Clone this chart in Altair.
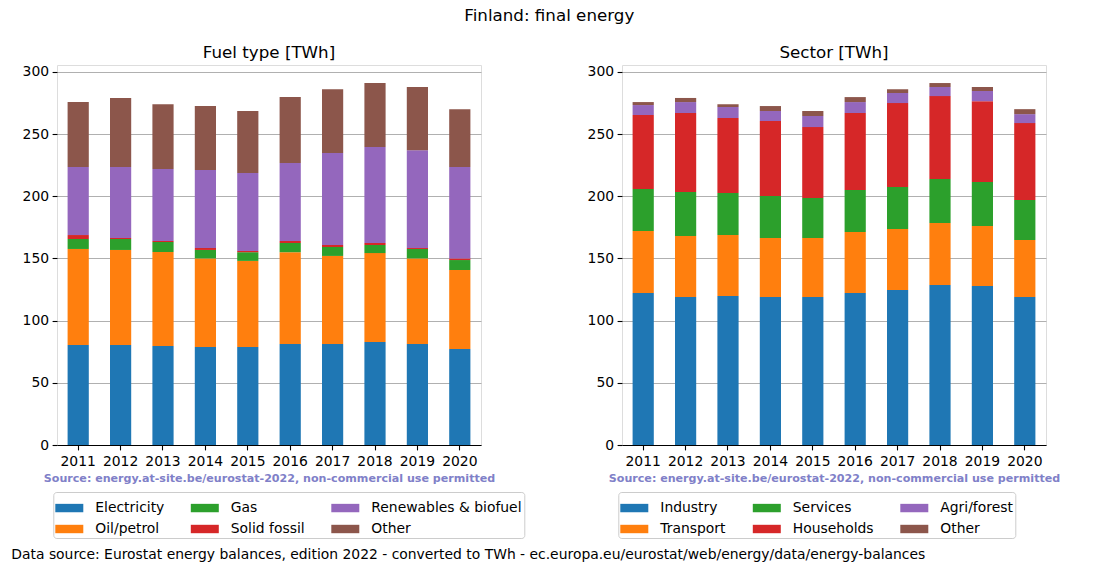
import altair as alt
import pandas as pd

years = ["2011", "2012", "2013", "2014", "2015", "2016", "2017", "2018", "2019", "2020"]

# Fuel type [TWh]
fuel_names = ["Electricity", "Oil/petrol", "Gas", "Solid fossil", "Renewables & biofuel", "Other"]
electricity = [80.4, 80.4, 79.6, 78.8, 78.8, 81.2, 81.2, 82.8, 81.2, 77.2]
oil_petrol = [77.2, 76.4, 75.5, 71.2, 69.2, 73.8, 70.8, 71.5, 68.8, 63.5]
gas = [8.0, 8.8, 8.1, 6.8, 7.0, 7.4, 7.2, 6.5, 7.6, 8.0]
solid_fossil = [3.2, 0.8, 0.8, 1.6, 1.0, 1.6, 1.6, 1.6, 0.8, 1.3]
renewables = [54.7, 57.1, 57.9, 62.6, 62.6, 62.7, 73.9, 77.1, 78.6, 73.5]
fuel_other = [52.2, 55.5, 52.1, 51.5, 49.9, 53.0, 51.3, 51.5, 50.8, 46.5]

# Sector [TWh]
sector_names = ["Industry", "Transport", "Services", "Households", "Agri/forest", "Other"]
industry = [122.2, 119.0, 119.8, 119.0, 119.0, 122.2, 124.6, 128.6, 127.8, 119.0]
transport = [49.8, 49.0, 49.0, 47.4, 47.4, 49.0, 49.0, 49.9, 48.2, 45.8]
services = [33.8, 35.4, 33.8, 33.8, 32.2, 33.8, 33.8, 35.3, 35.4, 32.2]
households = [59.5, 63.5, 60.3, 60.3, 57.0, 61.9, 67.5, 66.7, 65.0, 61.8]
agri_forest = [8.0, 8.8, 8.8, 8.0, 8.9, 8.8, 8.1, 7.3, 8.2, 7.2]
sector_other = [2.4, 3.3, 2.3, 4.0, 4.0, 4.0, 3.0, 3.2, 3.2, 4.0]

palette = ["#1f77b4", "#ff7f0e", "#2ca02c", "#d62728", "#9467bd", "#8c564b"]
y_ticks = [0, 50, 100, 150, 200, 250, 300]

SOURCE = "Source: energy.at-site.be/eurostat-2022, non-commercial use permitted"
DATA_SRC = ("Data source: Eurostat energy balances, edition 2022 - converted to TWh - "
            "ec.europa.eu/eurostat/web/energy/data/energy-balances")
FONT = "DejaVu Sans"


def long_table(names, series):
    rows = []
    for i, (n, vals) in enumerate(zip(names, series)):
        for y, v in zip(years, vals):
            rows.append({"year": y, "cat": n, "value": v, "idx": i})
    return pd.DataFrame(rows)


def panel(names, series, title):
    df = long_table(names, series)
    return alt.Chart(df).mark_bar().encode(
        x=alt.X("year:N", sort=years,
                scale=alt.Scale(paddingInner=0.5, paddingOuter=0.25),
                axis=alt.Axis(title=SOURCE, labelAngle=0, grid=False, domain=True,
                              domainColor="black", domainWidth=1.1, zindex=1,
                              ticks=True, tickSize=4.9, tickColor="black", tickWidth=1.1,
                              labelPadding=4.5, labelFontSize=13.9, labelColor="black",
                              labelFont=FONT, titleFont=FONT, titleFontWeight="bold",
                              titleFontSize=11.1, titleColor="#8080c8", titlePadding=4)),
        y=alt.Y("value:Q", stack="zero",
                scale=alt.Scale(domain=[0, 305.5], nice=False, zero=True),
                axis=alt.Axis(title=None, values=y_ticks, grid=True, gridColor="#b0b0b0",
                              gridWidth=1.1, domain=False, ticks=True, tickSize=4.9,
                              tickColor="black", tickWidth=1.1, labelPadding=3.5,
                              labelFontSize=13.9, labelColor="black", labelFont=FONT)),
        color=alt.Color("cat:N",
                        scale=alt.Scale(domain=names, range=palette),
                        legend=alt.Legend(title=None, orient="none", legendX=-3.7, legendY=427,
                                          columns=3, symbolType="M-1,-0.3H1V0.3H-1Z",
                                          symbolSize=784, symbolStrokeWidth=0,
                                          labelFontSize=13.9, labelFont=FONT, labelColor="black",
                                          labelOffset=12, labelLimit=0, columnPadding=26.5,
                                          rowPadding=0, padding=2, fillColor="white",
                                          strokeColor="#cccccc", cornerRadius=3,
                                          symbolOpacity=1)),
        order=alt.Order("idx:Q", sort="ascending"),
    ).properties(
        width=424, height=380,
        title=alt.TitleParams(title, fontSize=16.7, font=FONT, fontWeight="normal",
                              color="black", anchor="middle", offset=3.3),
    )


left = panel(fuel_names, [electricity, oil_petrol, gas, solid_fossil, renewables, fuel_other],
             "Fuel type [TWh]")
right = panel(sector_names, [industry, transport, services, households, agri_forest, sector_other],
              "Sector [TWh]")

inner = alt.hconcat(left, right, spacing=141, bounds="flush").resolve_scale(color="independent").properties(
    title=alt.TitleParams("Finland: final energy", fontSize=16.7, font=FONT, fontWeight="normal",
                          color="black", anchor="start", frame="group", dx=407.3, offset=20)
)

chart = alt.vconcat(inner, bounds="flush").properties(
    title=alt.TitleParams(DATA_SRC, orient="bottom", anchor="start", frame="group", dx=-45.7,
                          fontSize=13.9, font=FONT, fontWeight="normal", color="black", offset=9),
    padding={"left": 11, "top": 7, "right": 5, "bottom": 5},
).configure_view(stroke="black", strokeWidth=1.1).configure(background="white")

chart.save("out.html", embed_options={"renderer": "svg", "actions": False})
